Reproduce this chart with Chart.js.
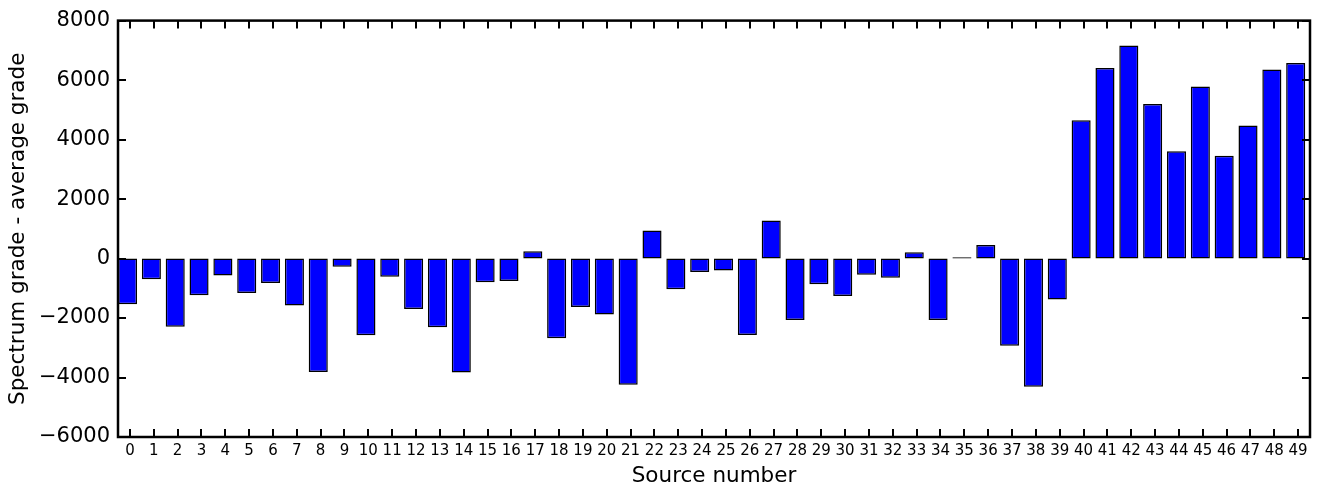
<!DOCTYPE html>
<html>
<head>
<meta charset="utf-8">
<script src="https://cdn.jsdelivr.net/npm/chart.js@4"></script>
<style>
html,body{margin:0;padding:0;background:#fff;}
#wrap{width:1325px;height:493px;position:relative;}
</style>
</head>
<body>
<div id="wrap"><canvas id="c" width="1325" height="493"></canvas></div>
<script>
const categories = ['0','1','2','3','4','5','6','7','8','9','10','11','12','13','14','15','16','17','18','19','20','21','22','23','24','25','26','27','28','29','30','31','32','33','34','35','36','37','38','39','40','41','42','43','44','45','46','47','48','49'];
const values = [-1533,-700,-2290,-1233,-567,-1157,-823,-1578,-3813,-278,-2578,-611,-1700,-2311,-3833,-800,-756,244,-2678,-1633,-1878,-4244,943,-1033,-456,-400,-2567,1277,-2067,-867,-1256,-544,-644,211,-2067,45,456,-2933,-4311,-1378,4653,6410,7167,5200,3610,5787,3453,4477,6353,6577];
const yTicks = [-6000,-4000,-2000,0,2000,4000,6000,8000];
const xTitle = 'Source number';
const yTitle = 'Spectrum grade - average grade';

const FONT = "'DejaVu Sans', sans-serif";
const BAR_OFFSET = 0.4;
const TICK_OFFSET = 0.5;

const points = values.map((v, i) => ({x: i + BAR_OFFSET, y: v}));

const frame = {
  id: 'frame',
  afterDatasetsDraw(chart) {
    const {ctx, chartArea: a, scales} = chart;
    ctx.save();
    ctx.strokeStyle = '#000';
    ctx.lineWidth = 2;
    const L = 8;
    ctx.beginPath();
    scales.x.ticks.forEach(t => {
      const px = Math.round(scales.x.getPixelForValue(t.value));
      ctx.moveTo(px, a.bottom); ctx.lineTo(px, a.bottom - L);
      ctx.moveTo(px, a.top); ctx.lineTo(px, a.top + L);
    });
    scales.y.ticks.forEach(t => {
      const py = Math.round(scales.y.getPixelForValue(t.value));
      ctx.moveTo(a.left, py); ctx.lineTo(a.left + L, py);
      ctx.moveTo(a.right, py); ctx.lineTo(a.right - L, py);
    });
    ctx.stroke();
    ctx.lineWidth = 2.5;
    ctx.strokeRect(a.left, a.top, a.right - a.left, a.bottom - a.top);
    ctx.restore();
  }
};

new Chart(document.getElementById('c'), {
  type: 'bar',
  data: {
    datasets: [{
      data: points,
      backgroundColor: '#0000ff',
      borderColor: '#000',
      borderWidth: 1.5,
      borderSkipped: false,
      barPercentage: 0.8,
      categoryPercentage: 1.0
    }]
  },
  options: {
    responsive: false,
    animation: false,
    devicePixelRatio: 1,
    layout: {padding: {left: 0, right: 15, top: 17, bottom: 0}},
    plugins: {legend: {display: false}, tooltip: {enabled: false}},
    scales: {
      x: {
        type: 'linear',
        offset: false,
        min: 0,
        max: categories.length,
        grid: {display: false, drawTicks: false, offset: false},
        border: {display: false},
        afterBuildTicks(scale) {
          scale.ticks = categories.map((c, i) => ({value: i + TICK_OFFSET}));
        },
        afterFit(scale) { scale.height = 56; },
        ticks: {
          autoSkip: false,
          maxRotation: 0,
          minRotation: 0,
          padding: 5,
          color: '#000',
          font: {family: FONT, size: 15},
          callback: (v, idx) => categories[idx]
        },
        title: {display: true, text: xTitle, color: '#000', font: {family: FONT, size: 21.5}, padding: {top: 0, bottom: 4}}
      },
      y: {
        min: -6000,
        max: 8000,
        grid: {display: false, drawTicks: false},
        border: {display: false},
        afterBuildTicks(scale) {
          scale.ticks = yTicks.map(v => ({value: v}));
        },
        afterFit(scale) { scale.width = 118; },
        ticks: {
          padding: 8,
          color: '#000',
          font: {family: FONT, size: 21},
          callback: v => (v < 0 ? '\u2212' + Math.abs(v) : String(v))
        },
        title: {display: true, text: yTitle, color: '#000', font: {family: FONT, size: 21.5}, padding: {top: 6, bottom: 0}}
      }
    }
  },
  plugins: [frame]
});
</script>
</body>
</html>
